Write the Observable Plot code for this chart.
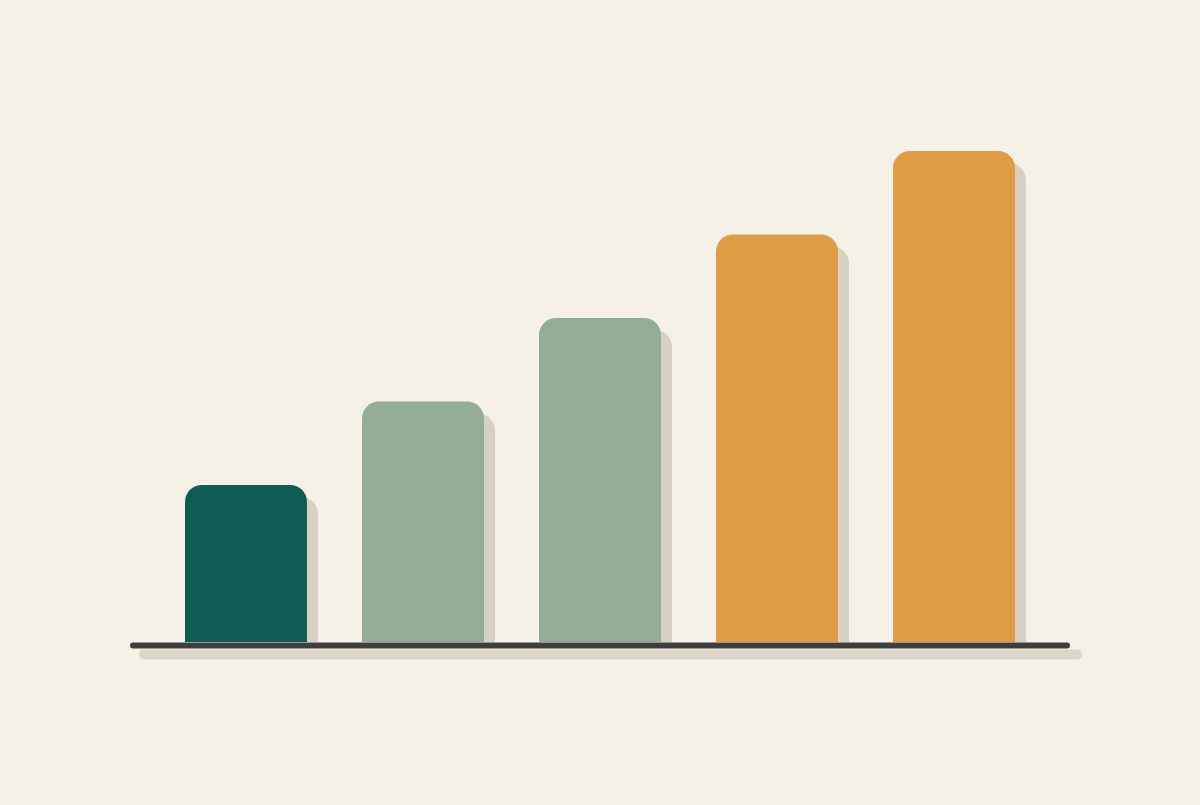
<!DOCTYPE html>
<html>
<head>
<meta charset="utf-8">
<script src="https://cdn.jsdelivr.net/npm/d3@7"></script>
<script src="https://cdn.jsdelivr.net/npm/@observablehq/plot@0.6"></script>
<style>
  html, body { margin: 0; padding: 0; background: #F6F1E6; }
  #chart svg { display: block; }
</style>
</head>
<body>
<div id="chart"></div>
<script>
const categories = ["A", "B", "C", "D", "E"];
const values = [32, 49, 66, 83, 100];
const colors = ["#0F5B55", "#93AD97", "#93AD97", "#DE9C44", "#DE9C44"];

const data = categories.map((c, i) => ({category: c, value: values[i], color: colors[i]}));

const R = 17;
const shadowColor = "#D8D0C3";

const chart = Plot.plot({
  width: 1200,
  height: 805,
  marginLeft: 130,
  marginRight: 130,
  marginTop: 151,
  marginBottom: 163,
  style: {background: "#F6F1E6"},
  x: {domain: categories, padding: 0.31, axis: null},
  y: {domain: [0, 100], axis: null},
  color: {type: "identity"},
  marks: [
    // baseline shadow
    Plot.ruleY([0], {stroke: "#DCD5C9", strokeWidth: 10, strokeLinecap: "round", dx: 12, dy: 12, insetLeft: 2, insetRight: 5}),
    // bar shadows (rounded top + square lower part)
    Plot.barY(data, {x: "category", y: "value", fill: shadowColor, rx: R, dx: 11, dy: 12, insetBottom: 12 + R}),
    Plot.barY(data, {x: "category", y: "value", fill: shadowColor, dx: 11, dy: 12, insetTop: R, insetBottom: 12}),
    // bars
    Plot.barY(data, {x: "category", y: "value", fill: "color", rx: R, insetBottom: R}),
    Plot.barY(data, {x: "category", y: "value", fill: "color", insetTop: R}),
    // baseline
    Plot.ruleY([0], {stroke: "#3E3E3E", strokeWidth: 6, strokeLinecap: "round", dy: 3, insetLeft: 3, insetRight: 3})
  ]
});
document.getElementById("chart").appendChild(chart);
</script>
</body>
</html>
